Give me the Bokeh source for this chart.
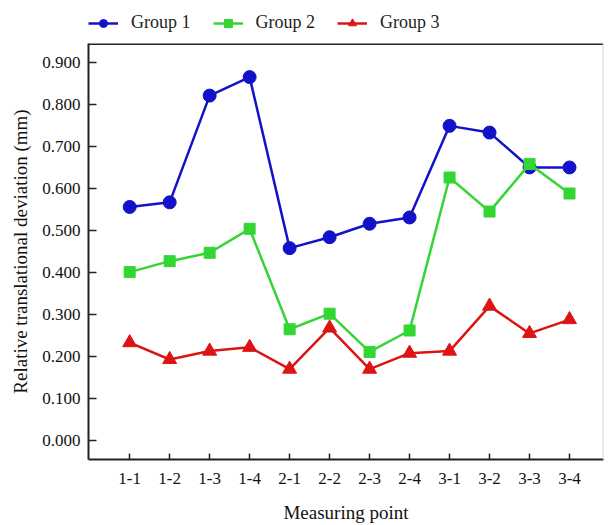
from bokeh.plotting import figure
from bokeh.layouts import column
from bokeh.models import (FixedTicker, PrintfTickFormatter, Legend, LegendItem,
                          Range1d, ColumnDataSource, Span)
from bokeh.embed import file_html
from bokeh.resources import INLINE

categories = ["1-1", "1-2", "1-3", "1-4", "2-1", "2-2", "2-3", "2-4", "3-1", "3-2", "3-3", "3-4"]
group1 = [0.556, 0.567, 0.821, 0.865, 0.458, 0.484, 0.516, 0.531, 0.749, 0.733, 0.650, 0.650]
group2 = [0.401, 0.427, 0.447, 0.504, 0.265, 0.302, 0.211, 0.262, 0.626, 0.545, 0.658, 0.588]
group3 = [0.233, 0.193, 0.213, 0.222, 0.170, 0.268, 0.170, 0.208, 0.213, 0.320, 0.255, 0.288]
series_names = ["Group 1", "Group 2", "Group 3"]
y_ticks = [0.0, 0.1, 0.2, 0.3, 0.4, 0.5, 0.6, 0.7, 0.8, 0.9]

FONT = "Liberation Serif"
xs = list(range(1, len(categories) + 1))
src = ColumnDataSource(dict(x=xs, g1=group1, g2=group2, g3=group3))
blue, green, red = "#1212C8", "#33D633", "#DD1414"

# ---------- legend strip ----------
lg = figure(width=608, height=41, output_backend="svg", toolbar_location=None,
            x_axis_type=None, y_axis_type=None, x_range=Range1d(0, 1), y_range=Range1d(0, 1),
            min_border=0, min_border_left=88, min_border_right=5, min_border_top=0, min_border_bottom=0)
lg.outline_line_color = None
lg.grid.visible = False
nan = float("nan")
items = []
for name, col, mk, sz in zip(series_names, [blue, green, red],
                              ["circle", "square", "triangle"], [9, 8, 10]):
    r_l = lg.line([nan], [nan], line_color=col, line_width=2.5)
    r_m = lg.scatter([nan], [nan], marker=mk, size=sz, fill_color=col, line_color=col)
    items.append(LegendItem(label=name, renderers=[r_l, r_m]))
legend = Legend(items=items, orientation="horizontal", location=(0, 8),
                label_text_font=FONT, label_text_font_size="18px", label_text_color="#222222",
                glyph_width=30, glyph_height=20, label_height=20, label_standoff=13, spacing=22,
                padding=0, margin=0, border_line_color=None, background_fill_alpha=0)
lg.add_layout(legend, "center")

# ---------- main chart ----------
X0, X1, Y0, Y1 = -0.03, 12.85, -0.045, 0.945
p = figure(width=608, height=484, output_backend="svg", toolbar_location=None,
           x_range=Range1d(X0, X1), y_range=Range1d(Y0, Y1),
           min_border_left=88, min_border_right=5, min_border_top=2, min_border_bottom=60)
p.outline_line_color = None
p.grid.visible = False
p.background_fill_color = "white"

p.line("x", "g1", source=src, line_color=blue, line_width=2.5)
p.scatter("x", "g1", source=src, marker="circle", size=13, fill_color=blue, line_color=blue)
p.line("x", "g2", source=src, line_color=green, line_width=2.5)
p.scatter("x", "g2", source=src, marker="square", size=11, fill_color=green, line_color=green)
p.line("x", "g3", source=src, line_color=red, line_width=2.5)
p.scatter("x", "g3", source=src, marker="triangle", size=14, fill_color=red, line_color=red)

# frame: dark top edge, faint right edge
p.add_layout(Span(location=Y1, dimension="width", line_color="#222222", line_width=3))
p.add_layout(Span(location=X1, dimension="height", line_color="#D8D8D8", line_width=2))

xa = p.xaxis[0]
xa.ticker = FixedTicker(ticks=xs)
xa.major_label_overrides = {i: c for i, c in zip(xs, categories)}
xa.axis_label = "Measuring point"
ya = p.yaxis[0]
ya.ticker = FixedTicker(ticks=y_ticks)
ya.formatter = PrintfTickFormatter(format="%.3f")
ya.axis_label = "Relative translational deviation (mm)"

for ax in (xa, ya):
    ax.axis_line_color = "#222222"
    ax.axis_line_width = 2
    ax.major_tick_line_color = "#222222"
    ax.major_tick_line_width = 1.5
    ax.major_tick_out = 0
    ax.minor_tick_line_color = None
    ax.major_label_text_font = FONT
    ax.major_label_text_font_size = "17px"
    ax.major_label_text_color = "#111111"
    ax.axis_label_text_font = FONT
    ax.axis_label_text_font_size = "19px"
    ax.axis_label_text_font_style = "normal"
    ax.axis_label_text_color = "#111111"
xa.major_tick_in = 6
ya.major_tick_in = 8
xa.major_label_standoff = 13
ya.major_label_standoff = 8
xa.axis_label_standoff = 15
ya.axis_label_standoff = 8

layout = column(lg, p, spacing=0)
open("out.html", "w").write(file_html(layout, INLINE))
